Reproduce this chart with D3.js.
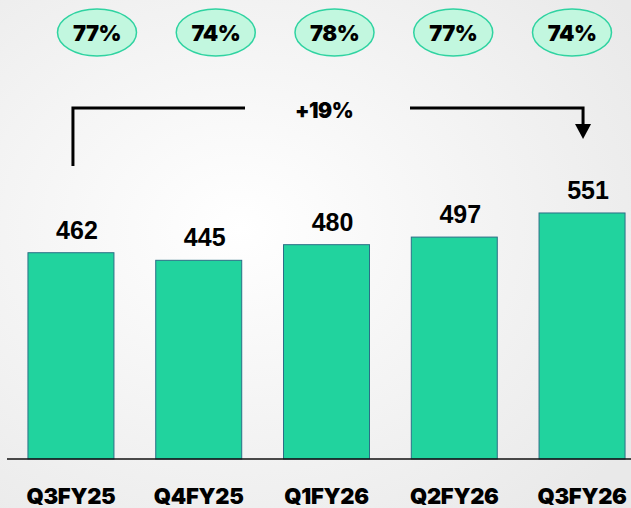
<!DOCTYPE html>
<html>
<head>
<meta charset="utf-8">
<script src="https://cdn.jsdelivr.net/npm/d3@7"></script>
<style>
  body { margin: 0; padding: 0; overflow: hidden; }
  .chart svg { display: block; }
</style>
</head>
<body>
<div class="chart"></div>
<script>
// data
const quarters = ["Q3FY25", "Q4FY25", "Q1FY26", "Q2FY26", "Q3FY26"];
const values = [462, 445, 480, 497, 551];
const shares = ["77%", "74%", "78%", "77%", "74%"];
const growthLabel = "+19%";

function main(){
    const width = 631;
    const height = 508;

    const svg = d3.select(".chart")
                  .append("svg")
                  .attr("width", width)
                  .attr("height", height);

    // soft grey background
    const defs = svg.append("defs");
    const grad = defs.append("radialGradient")
                     .attr("id", "bg")
                     .attr("cx", "0.38").attr("cy", "0.45").attr("r", "0.75");
    grad.append("stop").attr("offset", "0%").attr("stop-color", "#ffffff");
    grad.append("stop").attr("offset", "100%").attr("stop-color", "#e9e9e9");
    svg.append("rect")
       .attr("width", width).attr("height", height)
       .attr("fill", "url(#bg)");

    const data = quarters.map((q, i) => ({q: q, v: values[i], s: shares[i]}));

    //scales
    const xScale = d3.scaleBand()
                     .domain(quarters)
                     .range([7, 646])
                     .paddingInner(0.327)
                     .paddingOuter(0.164);
    const yScale = d3.scaleLinear()
                     .domain([0, 1028])
                     .range([459, 0]);
    const pScale = d3.scalePoint()
                     .domain(quarters)
                     .range([97, 572]);

    const cx = d => xScale(d.q) + xScale.bandwidth() / 2;

    //bars
    svg.selectAll(".bar")
       .data(data)
       .enter()
       .append("rect")
       .attr("class", "bar")
       .attr("x", d => xScale(d.q))
       .attr("y", d => yScale(d.v))
       .attr("width", xScale.bandwidth())
       .attr("height", d => yScale(0) - yScale(d.v))
       .attr("fill", "#21d39e")
       .attr("stroke", "#2b6f86")
       .attr("stroke-width", 1);

    // baseline
    svg.append("line")
       .attr("x1", 7).attr("x2", width)
       .attr("y1", yScale(0)).attr("y2", yScale(0))
       .attr("stroke", "#111")
       .attr("stroke-width", 1.5);

    //value labels
    svg.selectAll(".val")
       .data(data)
       .enter()
       .append("text")
       .attr("class", "val")
       .attr("x", d => cx(d) + 6)
       .attr("y", d => yScale(d.v) - 14)
       .attr("text-anchor", "middle")
       .attr("font-family", "Liberation Sans, Arial, sans-serif")
       .attr("font-weight", "bold")
       .attr("font-size", 25)
       .attr("fill", "#000")
       .text(d => d.v);

    //category labels
    svg.selectAll(".cat")
       .data(data)
       .enter()
       .append("text")
       .attr("class", "cat")
       .attr("x", d => cx(d))
       .attr("y", 504)
       .attr("text-anchor", "middle")
       .attr("font-family", "Inter, sans-serif")
       .attr("font-weight", 900)
       .attr("font-size", 22)
       .attr("letter-spacing", "-0.3")
       .attr("fill", "#000")
       .text(d => d.q);

    //share ellipses
    const pills = svg.selectAll(".pill")
                     .data(data)
                     .enter()
                     .append("g")
                     .attr("class", "pill")
                     .attr("transform", d => `translate(${pScale(d.q)}, 32.5)`);
    pills.append("ellipse")
         .attr("rx", 39.5)
         .attr("ry", 23.5)
         .attr("fill", "#c2f7df")
         .attr("stroke", "#2fd3a1")
         .attr("stroke-width", 1.5);
    pills.append("text")
         .attr("y", 8)
         .attr("text-anchor", "middle")
         .attr("font-family", "Inter, sans-serif")
         .attr("font-weight", 900)
         .attr("font-size", 22)
         .attr("letter-spacing", "-0.5")
         .attr("fill", "#000")
         .text(d => d.s);

    //growth bracket
    const first = data[0], last = data[data.length - 1];
    const xa = cx(first) + 2, xb = cx(last) + 1;
    const yTop = 108;
    svg.append("path")
       .attr("d", `M${xa},${yTop + 58} V${yTop} H245`)
       .attr("fill", "none")
       .attr("stroke", "#000")
       .attr("stroke-width", 3);
    svg.append("path")
       .attr("d", `M410,${yTop} H${xb} V${yTop + 18}`)
       .attr("fill", "none")
       .attr("stroke", "#000")
       .attr("stroke-width", 3);
    svg.append("path")
       .attr("d", `M${xb - 8},${yTop + 16} L${xb + 8},${yTop + 16} L${xb},${yTop + 31} Z`)
       .attr("fill", "#000");
    svg.append("text")
       .attr("x", 324)
       .attr("y", 118)
       .attr("text-anchor", "middle")
       .attr("font-family", "Inter, sans-serif")
       .attr("font-weight", 900)
       .attr("font-size", 21)
       .attr("letter-spacing", "-0.5")
       .attr("fill", "#000")
       .text(growthLabel);
}

main();
</script>
</body>
</html>
